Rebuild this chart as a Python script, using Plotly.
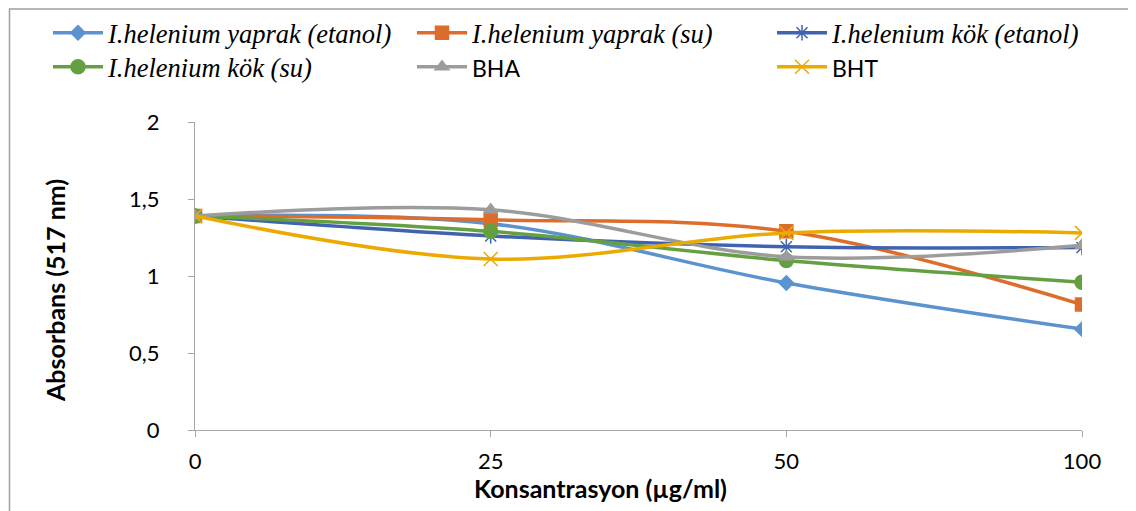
import plotly.graph_objects as go

concentrations = ["0", "25", "50", "100"]

yaprak_etanol = [1.39, 1.34, 0.955, 0.655]
yaprak_su = [1.39, 1.365, 1.29, 0.815]
kok_etanol = [1.39, 1.26, 1.19, 1.185]
kok_su = [1.39, 1.29, 1.10, 0.96]
bha = [1.39, 1.43, 1.125, 1.20]
bht = [1.39, 1.11, 1.28, 1.28]

series_names = [
    "<i>I.helenium yaprak (etanol)</i>",
    "<i>I.helenium yaprak (su)</i>",
    "<i>I.helenium kök (etanol)</i>",
    "<i>I.helenium kök (su)</i>",
    "<span style=\"font-family:Lato;font-size:23px\">BHA</span>",
    "<span style=\"font-family:Lato;font-size:23px\">BHT</span>",
]
series_values = [yaprak_etanol, yaprak_su, kok_etanol, kok_su, bha, bht]
colors = ["#5A93CF", "#DD6D2C", "#4063B0", "#64A041", "#9C9C9C", "#EAAA00"]
symbols = ["diamond", "square", "asterisk-open", "circle", "triangle-up", "x-thin-open"]
sizes = [11, 13, 13, 14, 12, 14]
legend_ids = ["legend", "legend2", "legend3", "legend4", "legend5", "legend6"]

OFF = 8  # page body margin offset
W, H = 1136, 511

fig = go.Figure()
for name, vals, c, s, sz, lg in zip(series_names, series_values, colors, symbols, sizes, legend_ids):
    fig.add_trace(go.Scatter(
        x=concentrations, y=vals, name=name, mode="lines+markers", legend=lg,
        line=dict(color=c, width=3.5, shape="spline", smoothing=1),
        marker=dict(symbol=s, size=sz, color=c, line=dict(color=c, width=1.5)),
    ))

# legend grid (page pixel positions of each entry: left x, center y)
legend_pos = [(48, 33), (412, 33), (772, 33), (48, 67), (412, 67), (772, 67)]
legends = {}
for lg, (px, py) in zip(legend_ids, legend_pos):
    legends[lg] = dict(
        xref="container", yref="container",
        x=(px - OFF) / W, y=1 - (py - OFF) / H, xanchor="left", yanchor="middle",
        font=dict(family="Liberation Serif", size=26.5, color="#000000"),
        itemwidth=50, bgcolor="rgba(0,0,0,0)", borderwidth=0,
    )

axis_col = "#A6A6A6"
fig.update_layout(
    width=W, height=H,
    margin=dict(l=195 - OFF, r=W - (195 - OFF) - 887, t=122 - OFF, b=H - (122 - OFF) - 308, autoexpand=False),
    paper_bgcolor="white", plot_bgcolor="white",
    separators=",.",
    font=dict(family="Lato", size=22, color="#000000"),
    showlegend=True,
    xaxis=dict(
        type="category", range=[0, 3], showgrid=False, zeroline=False,
        showline=True, linecolor=axis_col, linewidth=1,
        ticks="outside", ticklen=6, tickcolor=axis_col,
        tickfont=dict(family="Lato", size=22), ticklabelstandoff=6,
    ),
    yaxis=dict(
        range=[0, 2], dtick=0.5, showgrid=False, zeroline=False,
        showline=True, linecolor=axis_col, linewidth=1,
        ticks="outside", ticklen=6, tickcolor=axis_col,
        tickfont=dict(family="Lato", size=22), ticklabelstandoff=24,
    ),
    annotations=[
        dict(text="<b>Konsantrasyon (µg/ml)</b>", xref="paper", yref="paper",
             x=(600 - 195) / 887, y=(430 - 488) / 308, xanchor="center", yanchor="middle",
             showarrow=False, font=dict(family="Lato", size=25)),
        dict(text="<b>Absorbans (517 nm)</b>", xref="paper", yref="paper",
             x=(55 - 195) / 887, y=(430 - 291) / 308, xanchor="center", yanchor="middle",
             textangle=-90, showarrow=False, font=dict(family="Lato", size=25)),
    ],
    shapes=[dict(
        type="rect", xref="paper", yref="paper",
        x0=(9.5 - 195) / 887, x1=1.2, y0=-0.5, y1=(430 - 9) / 308,
        line=dict(color="#A0A0A0", width=1.5), fillcolor="rgba(0,0,0,0)", layer="above",
    )],
    **legends,
)

fig.write_html("out.html")
